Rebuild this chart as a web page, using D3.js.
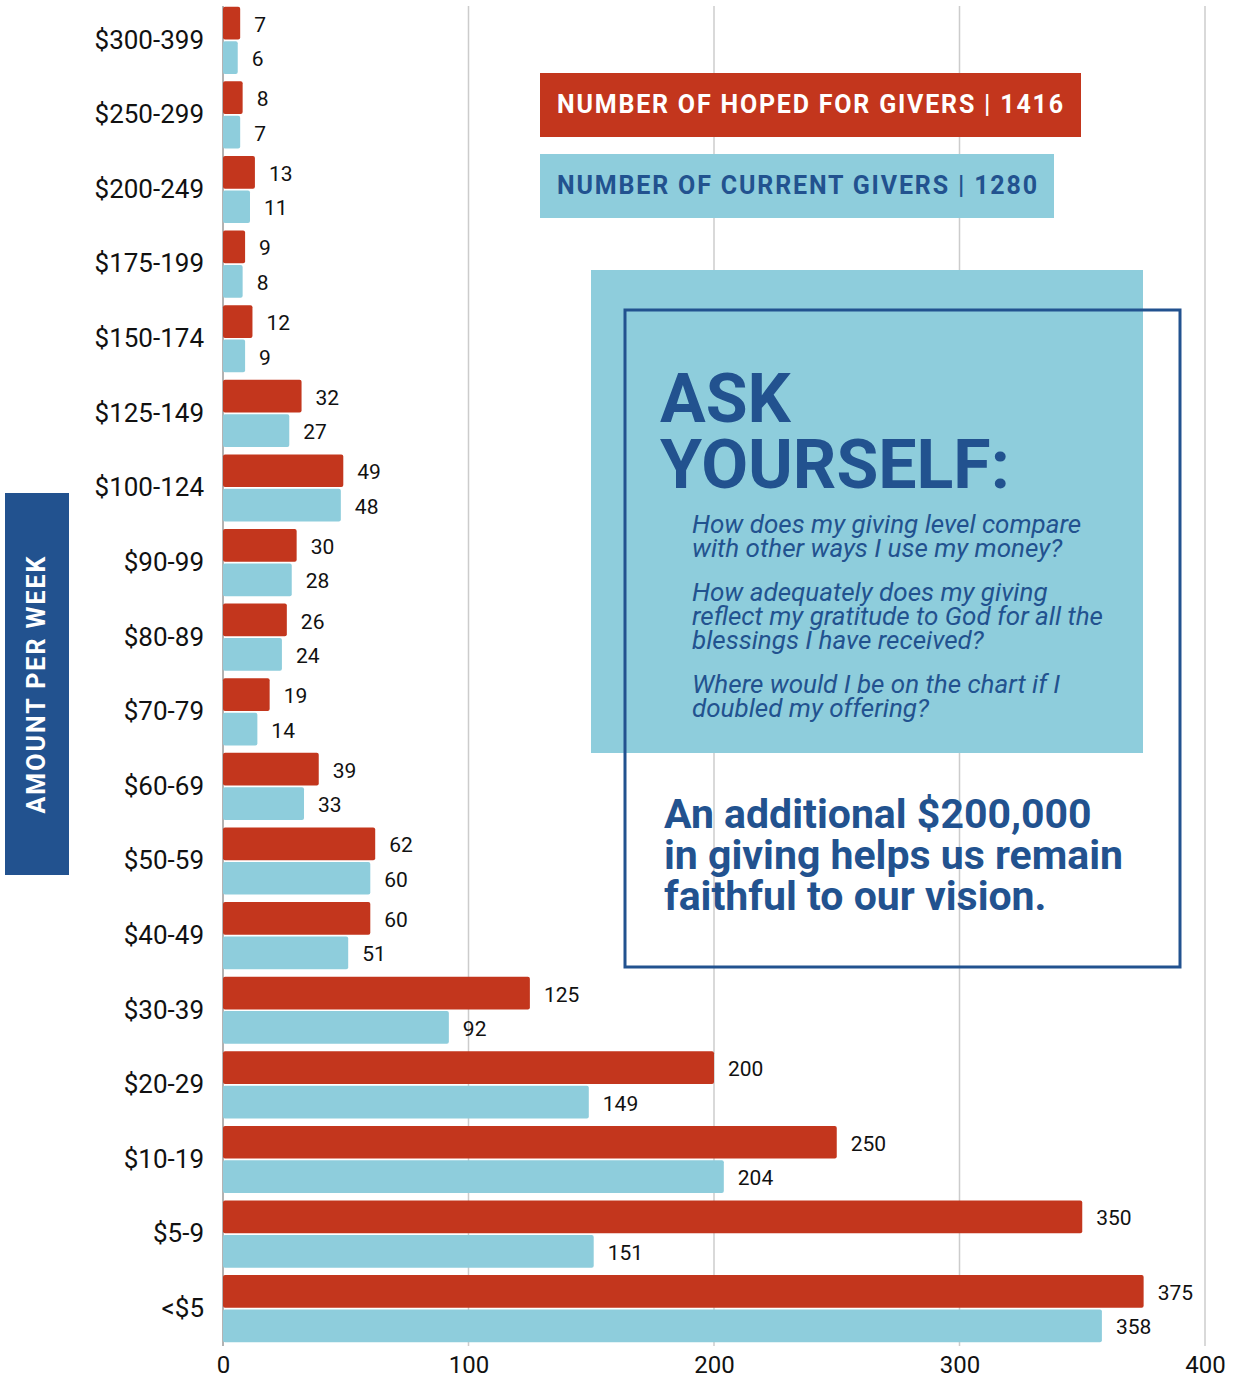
<!DOCTYPE html>
<html>
<head>
<meta charset="utf-8">
<script src="https://cdn.jsdelivr.net/npm/d3@7"></script>
<style>
  body { margin: 0; background: #fff; }
  svg { display: block; font-family: Roboto, "Noto Sans", sans-serif; }
</style>
</head>
<body>
<div id="chart"></div>
<script>
// data, top to bottom
const categories = ["$300-399", "$250-299", "$200-249", "$175-199", "$150-174", "$125-149",
    "$100-124", "$90-99", "$80-89", "$70-79", "$60-69", "$50-59", "$40-49", "$30-39",
    "$20-29", "$10-19", "$5-9", "<$5"];
const hopedGivers   = [7, 8, 13, 9, 12, 32, 49, 30, 26, 19, 39, 62, 60, 125, 200, 250, 350, 375];
const currentGivers = [6, 7, 11, 8, 9, 27, 48, 28, 24, 14, 33, 60, 51, 92, 149, 204, 151, 358];
const xTicks = [0, 100, 200, 300, 400];
const seriesNames = ["hoped", "current"];
const legendLabels = ["NUMBER OF HOPED FOR GIVERS | 1416", "NUMBER OF CURRENT GIVERS | 1280"];
const questions = [
    ["How does my giving level compare", "with other ways I use my money?"],
    ["How adequately does my giving", "reflect my gratitude to God for all the", "blessings I have received?"],
    ["Where would I be on the chart if I", "doubled my offering?"]
];
const closingLines = ["An additional $200,000", "in giving helps us remain", "faithful to our vision."];

const red = "#c3361d", lightBlue = "#8ecddc", darkBlue = "#22528f";

const width = 1239, height = 1380;

let svg = d3.select("#chart")
    .append("svg")
    .attr("width", width)
    .attr("height", height);

// scales
var xScale = d3.scaleLinear()
    .domain([0, 400])
    .range([223, 1205]);

var yScale = d3.scaleBand()
    .domain(categories)
    .range([3, 1346])
    .paddingInner(0.1)
    .paddingOuter(0.05);

var subScale = d3.scaleBand()
    .domain(seriesNames)
    .range([0, yScale.bandwidth()])
    .paddingInner(0.05);

const rows = categories.map((c, i) => ({cat: c, hoped: hopedGivers[i], current: currentGivers[i]}));

// grid lines
svg.append("g")
    .selectAll("line")
    .data(xTicks.slice(1))
    .enter()
    .append("line")
    .attr("x1", d => xScale(d))
    .attr("x2", d => xScale(d))
    .attr("y1", 6)
    .attr("y2", 1346)
    .attr("stroke", "#cccccc")
    .attr("stroke-width", 1.5);

// x axis labels
var xAxis = d3.axisBottom(xScale)
    .tickValues(xTicks)
    .tickSize(0)
    .tickPadding(6);
let xg = svg.append("g")
    .attr("transform", "translate(0,1350)")
    .call(xAxis);
xg.select(".domain").remove();
xg.selectAll("text")
    .attr("font-size", 24)
    .attr("font-family", "Roboto")
    .attr("fill", "#111");

// zero line
svg.append("line")
    .attr("x1", xScale(0))
    .attr("x2", xScale(0))
    .attr("y1", 6)
    .attr("y2", 1346)
    .attr("stroke", "#666")
    .attr("stroke-width", 1);

// bars
let groups = svg.selectAll(".grp")
    .data(rows)
    .enter()
    .append("g")
    .attr("class", "grp")
    .attr("transform", d => "translate(0," + yScale(d.cat) + ")");

seriesNames.forEach(s => {
    groups.append("rect")
        .attr("x", xScale(0))
        .attr("y", subScale(s))
        .attr("width", d => xScale(d[s]) - xScale(0))
        .attr("height", subScale.bandwidth())
        .attr("rx", 2)
        .attr("fill", s == "hoped" ? red : lightBlue);

    groups.append("text")
        .attr("x", d => xScale(d[s]) + 14)
        .attr("y", subScale(s) + subScale.bandwidth() / 2 + 1)
        .attr("dy", "0.36em")
        .attr("font-size", 21)
        .attr("fill", "#111")
        .text(d => d[s]);
});

// category labels
var yAxis = d3.axisLeft(yScale).tickSize(0).tickPadding(19);
let yg = svg.append("g")
    .attr("transform", "translate(" + xScale(0) + ",0)")
    .call(yAxis);
yg.select(".domain").remove();
yg.selectAll("text")
    .attr("font-size", 26)
    .attr("font-family", "Roboto")
    .attr("fill", "#111");

// y title box
svg.append("rect")
    .attr("x", 5).attr("y", 493)
    .attr("width", 64).attr("height", 382)
    .attr("fill", darkBlue);
svg.append("text")
    .attr("transform", "translate(45,684) rotate(-90)")
    .attr("text-anchor", "middle")
    .attr("font-size", 25)
    .attr("font-weight", "bold")
    .attr("letter-spacing", 2)
    .attr("fill", "#fff")
    .text("AMOUNT PER WEEK");

// legend boxes
const legendBoxes = [
    {x: 540, y: 73, w: 541, fill: red, color: "#fff", len: 506},
    {x: 540, y: 154, w: 514, fill: lightBlue, color: darkBlue, len: 480}
];
legendBoxes.forEach((b, i) => {
    svg.append("rect")
        .attr("x", b.x).attr("y", b.y)
        .attr("width", b.w).attr("height", 64)
        .attr("fill", b.fill);
    svg.append("text")
        .attr("x", b.x + 17)
        .attr("y", b.y + 40)
        .attr("font-size", 25)
        .attr("font-weight", "bold")
        .attr("textLength", b.len)
        .attr("lengthAdjust", "spacing")
        .attr("fill", b.color)
        .text(legendLabels[i]);
});

// ask yourself panel
svg.append("rect")
    .attr("x", 591).attr("y", 270)
    .attr("width", 552).attr("height", 483)
    .attr("fill", lightBlue);
svg.append("rect")
    .attr("x", 625).attr("y", 310)
    .attr("width", 555).attr("height", 657)
    .attr("fill", "none")
    .attr("stroke", darkBlue)
    .attr("stroke-width", 3);

["ASK", "YOURSELF:"].forEach((t, i) => {
    svg.append("text")
        .attr("x", 660)
        .attr("y", 422 + i * 66)
        .attr("font-size", 68)
        .attr("font-weight", "bold")
        .attr("fill", darkBlue)
        .text(t);
});

let qy = 533;
questions.forEach(q => {
    q.forEach(line => {
        svg.append("text")
            .attr("x", 692)
            .attr("y", qy)
            .attr("font-size", 26)
            .attr("font-style", "italic")
            .attr("fill", darkBlue)
            .text(line);
        qy += 24;
    });
    qy += 20;
});

closingLines.forEach((t, i) => {
    svg.append("text")
        .attr("x", 664)
        .attr("y", 828 + i * 41)
        .attr("font-size", 41)
        .attr("font-weight", "bold")
        .attr("fill", darkBlue)
        .text(t);
});
</script>
</body>
</html>
